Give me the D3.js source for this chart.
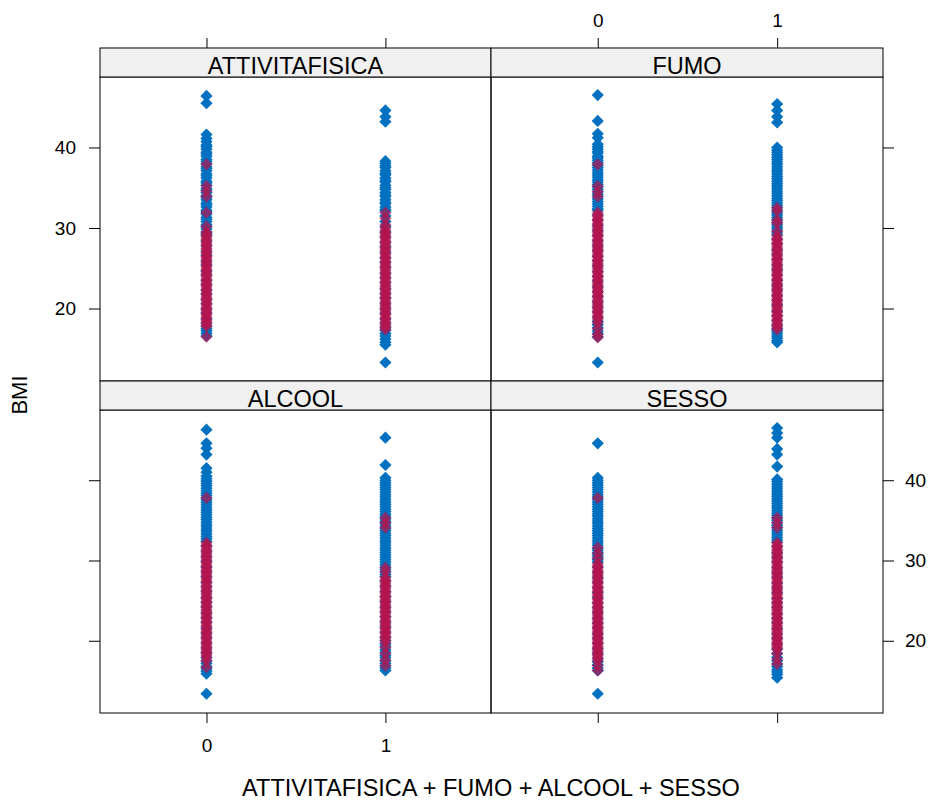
<!DOCTYPE html>
<html>
<head>
<meta charset="utf-8">
<script src="https://cdn.jsdelivr.net/npm/d3@7"></script>
<style>
    body { margin: 0; background: #ffffff; }
    text { font-family: "Liberation Sans", Arial, sans-serif; fill: #000000; }
</style>
</head>
<body>
<div id="canvas"></div>
<script>
"use strict"

/* Configuration variables: drawing */
let svgWidth = 933;
let svgHeight = 805;

/* panel grid: two columns, two rows (each row = strip + panel) */
let colEdges = [[100, 491], [491, 883]];
let rowEdges = [
    { strip: 48, top: 77, bottom: 381 },
    { strip: 381, top: 410, bottom: 713 }
];

/* Data: BMI of every visible point, x = 0 / 1 */
let panelNames = ["ATTIVITAFISICA", "FUMO", "ALCOOL", "SESSO"];
let xLevels = [0, 1];
let yTicks = [20, 30, 40];

/* ATTIVITAFISICA */
let att0Blue = [46.4, 45.5, 41.6, 41.1, 40.7, 40.3, 40.1, 39.8, 39.4, 39.2, 38.9, 38.5, 38.3, 38.0, 37.6, 37.4, 37.1, 36.7, 36.5, 36.2, 35.8, 35.6, 35.3, 34.9, 34.7, 34.4, 34.0, 33.8, 33.5, 33.1, 32.9, 32.6, 32.2, 32.0, 31.7, 31.3, 31.1, 30.8, 30.4, 30.2, 29.9, 29.5, 29.3, 29.0,
    28.4, 27.8, 27.1, 26.6, 25.9, 25.4, 24.7, 24.2, 23.5, 23.0, 22.3, 21.8, 21.1, 20.6, 19.9, 19.4, 18.7, 18.2, 17.8, 17.5, 17.2, 16.9, 16.6];
let att0Pink = [37.9, 35.2, 34.6, 33.9, 31.9, 30.2, 29.5, 29.2, 29.0, 28.7, 28.5, 28.2, 28.0, 27.8, 27.5, 27.3, 27.0, 26.8, 26.5, 26.3, 26.1, 25.8, 25.6, 25.3, 25.1, 24.8, 24.6, 24.4, 24.1, 23.9, 23.6, 23.4, 23.1, 22.9, 22.7, 22.4, 22.2, 21.9, 21.7, 21.4, 21.2, 21.0, 20.7, 20.5, 20.2, 20.0, 19.7, 19.5, 19.3, 19.0, 18.8, 18.5, 18.3, 18.0, 17.8, 16.5];
let att1Blue = [44.6, 43.8, 43.2, 38.3, 38.0, 37.7, 37.5, 37.1, 36.8, 36.6, 36.2, 35.9, 35.7, 35.3, 35.0, 34.8, 34.4, 34.1, 33.9, 33.5, 33.2, 33.0, 32.6, 32.3, 32.1,
    31.5, 30.8, 30.2, 29.5, 28.9, 28.2, 27.6, 27.0, 26.3, 25.7, 25.1, 24.4, 23.8, 23.2, 22.5, 21.9, 21.3, 20.6, 20.0, 19.4, 18.7, 18.1, 17.6, 17.3, 16.9, 16.6, 16.2, 15.8, 15.5, 13.3];
let att1Pink = [31.9, 31.2, 30.4, 30.0, 29.7, 29.4, 29.2, 28.9, 28.7, 28.4, 28.2, 27.9, 27.7, 27.4, 27.2, 26.9, 26.7, 26.4, 26.2, 25.9, 25.7, 25.4, 25.2, 24.9, 24.7, 24.4, 24.2, 23.9, 23.7, 23.4, 23.2, 22.9, 22.7, 22.4, 22.2, 21.9, 21.7, 21.4, 21.2, 20.9, 20.7, 20.4, 20.2, 19.9, 19.7, 19.4, 19.2, 18.9, 18.7, 18.4, 18.2, 17.9, 17.7, 17.4];

/* FUMO */
let fumo0Blue = [46.5, 43.3, 41.7, 41.2, 40.4, 40.1, 39.8, 39.5, 39.3, 38.9, 38.7, 38.4, 38.1, 37.8, 37.5, 37.2, 36.9, 36.6, 36.3, 36.0, 35.7, 35.4, 35.1, 34.8, 34.5, 34.2, 33.9, 33.6, 33.3, 33.0, 32.7, 32.4, 32.2,
    31.6, 31.0, 30.3, 29.7, 29.1, 28.4, 27.8, 27.2, 26.5, 25.9, 25.3, 24.6, 24.0, 23.4, 22.7, 22.1, 21.5, 20.8, 20.2, 19.6, 18.9, 18.4, 18.0, 17.6, 17.2, 16.9, 16.5, 13.3];
let fumo0Pink = [37.9, 35.2, 34.5, 33.9, 31.9, 31.6, 31.4, 31.1, 30.9, 30.6, 30.4, 30.1, 29.9, 29.6, 29.4, 29.1, 28.9, 28.6, 28.4, 28.1, 27.9, 27.6, 27.4, 27.1, 26.9, 26.6, 26.4, 26.1, 25.9, 25.6, 25.4, 25.1, 24.9, 24.6, 24.4, 24.1, 23.9, 23.6, 23.4, 23.1, 22.9, 22.6, 22.4, 22.1, 21.9, 21.6, 21.4, 21.1, 20.9, 20.6, 20.4, 20.1, 19.9, 19.6, 19.4, 19.1, 18.9, 18.6, 18.2, 17.5, 16.8, 16.4];
let fumo1Blue = [45.4, 44.6, 43.8, 43.1, 40.0, 39.7, 39.4, 39.1, 38.8, 38.5, 38.2, 37.9, 37.6, 37.3, 37.0, 36.7, 36.4, 36.1, 35.8, 35.5, 35.2, 34.9, 34.6, 34.3, 34.0, 33.7, 33.4, 33.1, 32.8, 32.5, 32.2, 31.9, 31.6, 31.3, 31.0, 30.7, 30.4, 30.1, 29.8, 29.5, 29.2,
    28.6, 28.0, 27.3, 26.7, 26.1, 25.4, 24.8, 24.2, 23.5, 22.9, 22.3, 21.6, 21.0, 20.4, 19.7, 19.1, 18.5, 17.9, 17.5, 17.2, 16.9, 16.6, 16.3, 16.0, 15.8];
let fumo1Pink = [32.5, 32.1, 31.0, 30.6, 29.6, 29.0, 28.7, 28.5, 28.2, 28.0, 27.7, 27.5, 27.2, 27.0, 26.7, 26.5, 26.2, 26.0, 25.7, 25.5, 25.2, 25.0, 24.7, 24.5, 24.2, 24.0, 23.7, 23.5, 23.2, 23.0, 22.7, 22.5, 22.2, 22.0, 21.7, 21.5, 21.2, 21.0, 20.7, 20.5, 20.2, 20.0, 19.7, 19.5, 19.2, 19.0, 18.7, 18.5, 18.2, 18.0, 17.7, 17.4];

/* ALCOOL */
let alc0Blue = [46.3, 44.6, 44.0, 43.2, 41.5, 41.0, 40.5, 40.2, 39.9, 39.6, 39.3, 39.0, 38.7, 38.4, 38.1, 37.8, 37.5, 37.2, 36.9, 36.6, 36.3, 36.0, 35.7, 35.4, 35.1, 34.8, 34.5, 34.2, 33.9, 33.6, 33.3, 33.0, 32.7, 32.4,
    31.8, 31.1, 30.5, 29.9, 29.2, 28.6, 28.0, 27.3, 26.7, 26.1, 25.4, 24.8, 24.2, 23.5, 22.9, 22.3, 21.6, 21.0, 20.4, 19.7, 19.1, 18.5, 17.9, 17.5, 17.2, 16.8, 16.5, 16.2, 15.9, 13.4];
let alc0Pink = [37.8, 32.2, 31.9, 31.7, 31.4, 31.2, 30.9, 30.7, 30.4, 30.2, 29.9, 29.7, 29.4, 29.2, 28.9, 28.7, 28.4, 28.2, 27.9, 27.7, 27.4, 27.2, 26.9, 26.7, 26.4, 26.2, 25.9, 25.7, 25.4, 25.2, 24.9, 24.7, 24.4, 24.2, 23.9, 23.7, 23.4, 23.2, 22.9, 22.7, 22.4, 22.2, 21.9, 21.7, 21.4, 21.2, 20.9, 20.7, 20.4, 20.2, 19.9, 19.7, 19.4, 19.2, 18.9, 18.7, 18.4, 18.2, 17.9, 17.5, 16.7];
let alc1Blue = [45.3, 41.9, 40.3, 40.0, 39.7, 39.4, 39.1, 38.8, 38.5, 38.2, 37.9, 37.6, 37.3, 37.0, 36.7, 36.4, 36.1, 35.8, 35.5, 35.2, 34.9, 34.6, 34.3, 34.0, 33.7, 33.4, 33.1, 32.8, 32.5, 32.2, 31.9, 31.6, 31.3, 31.0, 30.7, 30.4, 30.1, 29.8, 29.5, 29.2, 28.9, 28.6, 28.3, 28.0,
    27.4, 26.8, 26.1, 25.5, 24.9, 24.2, 23.6, 23.0, 22.3, 21.7, 21.1, 20.4, 20.0, 19.6, 19.3, 18.9, 18.6, 18.2, 17.9, 17.5, 17.2, 16.9, 16.6, 16.3];
let alc1Pink = [35.3, 34.7, 34.1, 29.1, 28.6, 27.9, 27.6, 27.4, 27.1, 26.9, 26.6, 26.4, 26.1, 25.9, 25.6, 25.4, 25.1, 24.9, 24.6, 24.4, 24.1, 23.9, 23.6, 23.4, 23.1, 22.9, 22.6, 22.4, 22.1, 21.9, 21.6, 21.4, 21.1, 20.9, 20.6, 20.4, 20.1, 19.8, 19.2, 18.4, 17.6, 16.9];

/* SESSO */
let sesso0Blue = [44.6, 40.3, 40.0, 39.7, 39.4, 39.1, 38.8, 38.5, 38.2, 37.9, 37.6, 37.3, 37.0, 36.7, 36.4, 36.1, 35.8, 35.5, 35.2, 34.9, 34.6, 34.3, 34.0, 33.7, 33.4, 33.1, 32.8, 32.5, 32.2, 31.9, 31.6, 31.3, 31.0, 30.7, 30.4, 30.1, 29.8,
    29.2, 28.5, 27.9, 27.3, 26.6, 26.0, 25.4, 24.7, 24.1, 23.5, 22.8, 22.2, 21.6, 20.9, 20.3, 19.7, 19.0, 18.4, 17.8, 17.4, 17.0, 16.6, 16.3, 13.4];
let sesso0Pink = [37.8, 31.6, 30.9, 30.3, 29.6, 29.3, 29.1, 28.8, 28.6, 28.3, 28.1, 27.8, 27.6, 27.3, 27.1, 26.8, 26.6, 26.3, 26.1, 25.8, 25.6, 25.3, 25.1, 24.8, 24.6, 24.3, 24.1, 23.8, 23.6, 23.3, 23.1, 22.8, 22.6, 22.3, 22.1, 21.8, 21.6, 21.3, 21.1, 20.8, 20.6, 20.3, 20.1, 19.8, 19.6, 19.3, 19.1, 18.8, 18.6, 18.3, 18.1, 17.8, 17.5, 16.9, 16.3];
let sesso1Blue = [46.5, 45.9, 45.3, 43.9, 43.2, 41.7, 40.1, 39.8, 39.5, 39.2, 38.9, 38.6, 38.3, 38.0, 37.7, 37.4, 37.1, 36.8, 36.5, 36.2, 35.9, 35.6, 35.3, 35.0, 34.7, 34.4, 34.1, 33.8, 33.5, 33.2, 32.9, 32.6, 32.3,
    31.7, 31.0, 30.4, 29.8, 29.1, 28.5, 27.9, 27.2, 26.6, 26.0, 25.3, 24.7, 24.1, 23.4, 22.8, 22.2, 21.5, 20.9, 20.3, 19.6, 19.0, 18.4, 17.9, 17.5, 17.1, 16.8, 16.4, 16.1, 15.8, 15.4];
let sesso1Pink = [35.3, 34.7, 34.1, 32.2, 31.9, 31.7, 31.4, 31.2, 30.9, 30.7, 30.4, 30.2, 29.9, 29.7, 29.4, 29.2, 28.9, 28.7, 28.4, 28.2, 27.9, 27.7, 27.4, 27.2, 26.9, 26.7, 26.4, 26.2, 25.9, 25.7, 25.4, 25.2, 24.9, 24.7, 24.4, 24.2, 23.9, 23.7, 23.4, 23.2, 22.9, 22.7, 22.4, 22.2, 21.9, 21.7, 21.4, 21.2, 20.9, 20.7, 20.4, 20.2, 19.9, 19.7, 19.4, 19.2, 18.9, 18.4, 17.7, 17.1];

/* blue group drawn first, crimson group on top (semi transparent) */
let blueSeries = [[att0Blue, att1Blue], [fumo0Blue, fumo1Blue], [alc0Blue, alc1Blue], [sesso0Blue, sesso1Blue]];
let pinkSeries = [[att0Pink, att1Pink], [fumo0Pink, fumo1Pink], [alc0Pink, alc1Pink], [sesso0Pink, sesso1Pink]];

let blueColor = "#0070c0";
let pinkColor = "#b5164f";

let svg = d3.select("#canvas")
    .append("svg")
    .attr("width", svgWidth)
    .attr("height", svgHeight);

svg.append("rect")
    .attr("width", svgWidth)
    .attr("height", svgHeight)
    .attr("fill", "#ffffff");

/* diamond = square rotated 45 degrees */
let diamond = d3.symbol().type(d3.symbolSquare).size(74)();

let tickFont = "19px";

function styleAxis(ax) {
    ax.select(".domain").remove();
    ax.selectAll(".tick line").attr("stroke", "#000000");
    ax.selectAll(".tick text")
        .style("font-size", tickFont)
        .style("font-family", "'Liberation Sans', Arial, sans-serif")
        .attr("fill", "#000000");
}

for (let p = 0; p < panelNames.length; p++) {
    let col = p % 2;
    let row = Math.floor(p / 2);
    let x0 = colEdges[col][0];
    let x1 = colEdges[col][1];
    let r = rowEdges[row];

    let xScale = d3.scaleLinear()
        .domain([-0.595, 1.59])
        .range([x0, x1]);

    let yScale = d3.scaleLinear()
        .domain([11.0, 48.75])
        .range([r.bottom, r.top]);

    let g = svg.append("g");

    /* points: flatten series into {x, y, group} */
    let points = [];
    for (let k = 0; k < xLevels.length; k++) {
        blueSeries[p][k].forEach(function (v) { points.push({ x: xLevels[k], y: v, grp: 0 }); });
    }
    for (let k = 0; k < xLevels.length; k++) {
        pinkSeries[p][k].forEach(function (v) { points.push({ x: xLevels[k], y: v, grp: 1 }); });
    }

    g.selectAll("path.pt")
        .data(points)
        .join("path")
        .attr("class", "pt")
        .attr("d", diamond)
        .attr("transform", function (d) {
            return "translate(" + xScale(d.x) + "," + yScale(d.y) + ") rotate(45)";
        })
        .attr("fill", function (d) { return d.grp === 0 ? blueColor : pinkColor; })
        .attr("fill-opacity", function (d) { return d.grp === 0 ? 1 : 0.7; });

    /* panel border */
    g.append("rect")
        .attr("x", x0)
        .attr("y", r.top)
        .attr("width", x1 - x0)
        .attr("height", r.bottom - r.top)
        .attr("fill", "none")
        .attr("stroke", "#000000");

    /* strip */
    g.append("rect")
        .attr("x", x0)
        .attr("y", r.strip)
        .attr("width", x1 - x0)
        .attr("height", r.top - r.strip)
        .attr("fill", "#f0f0f0")
        .attr("stroke", "#000000");

    g.append("text")
        .attr("x", (x0 + x1) / 2)
        .attr("y", r.top - 3)
        .attr("text-anchor", "middle")
        .style("font-size", "23.5px")
        .text(panelNames[p]);

    /* y axes: left labelled on the top row, right labelled on the bottom row */
    let leftAxis = d3.axisLeft(yScale)
        .tickValues(yTicks)
        .tickSize(11)
        .tickSizeOuter(0)
        .tickPadding(13)
        .tickFormat(d3.format("d"));
    let rightAxis = d3.axisRight(yScale)
        .tickValues(yTicks)
        .tickSize(11)
        .tickSizeOuter(0)
        .tickPadding(11)
        .tickFormat(d3.format("d"));

    if (col === 0) {
        if (row === 1) leftAxis.tickFormat("");
        let ax = g.append("g").attr("transform", "translate(" + x0 + ",0)").call(leftAxis);
        styleAxis(ax);
    } else {
        if (row === 0) rightAxis.tickFormat("");
        let ax = g.append("g").attr("transform", "translate(" + x1 + ",0)").call(rightAxis);
        styleAxis(ax);
    }

    /* x axes: top for the top row (labelled on the right column), bottom for the bottom row (labelled on the left) */
    if (row === 0) {
        let topAxis = d3.axisTop(xScale)
            .tickValues(xLevels)
            .tickSize(10)
            .tickSizeOuter(0)
            .tickPadding(11)
            .tickFormat(d3.format("d"));
        if (col === 0) topAxis.tickFormat("");
        let ax = g.append("g").attr("transform", "translate(0," + r.strip + ")").call(topAxis);
        styleAxis(ax);
    } else {
        let bottomAxis = d3.axisBottom(xScale)
            .tickValues(xLevels)
            .tickSize(10)
            .tickSizeOuter(0)
            .tickPadding(16)
            .tickFormat(d3.format("d"));
        if (col === 1) bottomAxis.tickFormat("");
        let ax = g.append("g").attr("transform", "translate(0," + r.bottom + ")").call(bottomAxis);
        styleAxis(ax);
    }
}

/**** label the axes ****/
svg.append("text")
    .attr("x", 491)
    .attr("y", 796)
    .attr("text-anchor", "middle")
    .style("font-size", "23.5px")
    .text("ATTIVITAFISICA + FUMO + ALCOOL + SESSO");

svg.append("text")
    .attr("transform", "translate(27," + (77 + 713) / 2 + ") rotate(-90)")
    .attr("text-anchor", "middle")
    .style("font-size", "22px")
    .text("BMI");
</script>
</body>
</html>
